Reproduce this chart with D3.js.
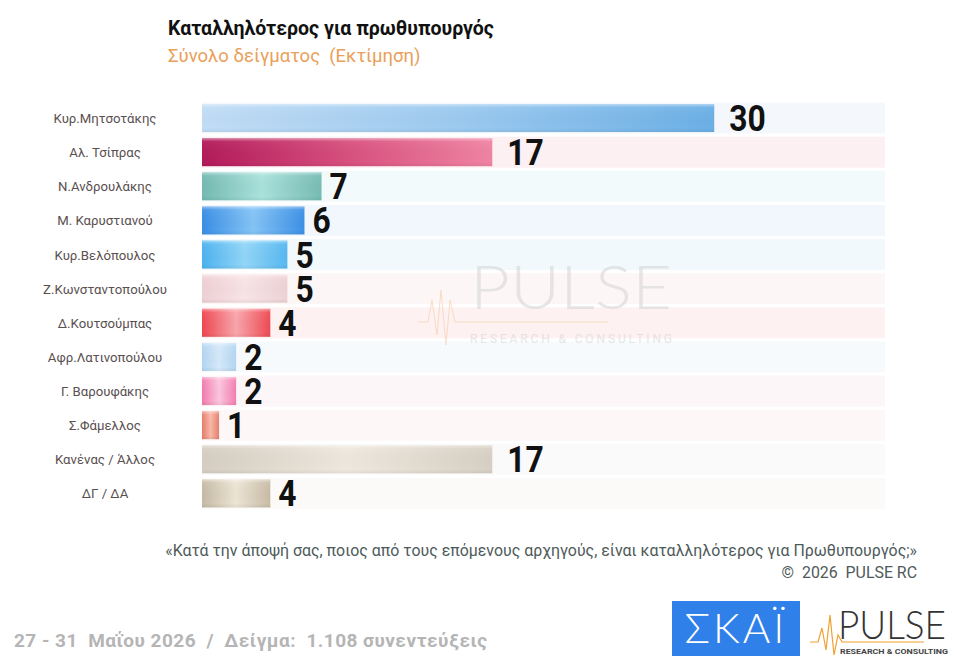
<!DOCTYPE html>
<html>
<head>
<meta charset="utf-8">
<script src="https://cdn.jsdelivr.net/npm/d3@7"></script>
<style>
  html, body { margin: 0; padding: 0; background: #fff; }
  #chart { width: 954px; height: 660px; }
  svg { font-family: Roboto, 'Liberation Sans', sans-serif; }
  text { white-space: pre; }
</style>
</head>
<body>
<div id="chart"></div>
<script>
// data
const names = [
  'Κυρ.Μητσοτάκης', 'Αλ. Τσίπρας', 'Ν.Ανδρουλάκης', 'Μ. Καρυστιανού',
  'Κυρ.Βελόπουλος', 'Ζ.Κωνσταντοπούλου', 'Δ.Κουτσούμπας', 'Αφρ.Λατινοπούλου',
  'Γ. Βαρουφάκης', 'Σ.Φάμελλος', 'Κανένας / Άλλος', 'ΔΓ / ΔΑ'
];
const values = [30, 17, 7, 6, 5, 5, 4, 2, 2, 1, 17, 4];

const title = 'Καταλληλότερος για πρωθυπουργός';
const subtitle = 'Σύνολο δείγματος  (Εκτίμηση)';
const question = '«Κατά την άποψή σας, ποιος από τους επόμενους αρχηγούς, είναι καταλληλότερος για Πρωθυπουργός;»';
const copyright = '©  2026  PULSE RC';
const sampleNote = '27 - 31  Μαΐου 2026  /  Δείγμα:  1.108 συνεντεύξεις';

// bar gradients (edge, middle, right edge) and pale row bands
const barColors = [
  ['#c2ddf6', '#9ccaf0', '#6cb0e6'],
  ['#b31a5a', '#d8507e', '#f084a4'],
  ['#74bab2', '#aae2dc', '#76bcb4'],
  ['#3a8ee6', '#84c4f6', '#3c90e6'],
  ['#4cb2f0', '#92d6f8', '#56b8f0'],
  ['#efd0d5', '#f8e4e7', '#eed2d6'],
  ['#ef4650', '#f9a6ac', '#ef4a52'],
  ['#b2d5f2', '#d6eafa', '#b4d6f2'],
  ['#f37aae', '#fcc6de', '#f37eb0'],
  ['#e67c68', '#f9b8a8', '#e6806c'],
  ['#d6cec2', '#eee8de', '#d8d0c4'],
  ['#c6baa4', '#ede5d6', '#c8bca6']
];
const bandColors = [
  '#f4f8fc', '#fcf0f3', '#f3fafb', '#f1f7fc', '#f2f9fd', '#fdf6f7',
  '#fdf1f2', '#f7fafd', '#fdf6f8', '#fdf7f8', '#fafafa', '#fbfaf8'
];

const W = 954, H = 660;

const svg = d3.select('#chart').append('svg')
  .attr('width', W)
  .attr('height', H);

const defs = svg.append('defs');

const x = d3.scaleLinear().domain([0, 40]).range([202, 885]);
const y = d3.scaleBand().domain(names).range([101, 510.5]).padding(0);

const barH = 28;
const bandH = 31;

barColors.forEach((c, i) => {
  const g = defs.append('linearGradient')
    .attr('id', `grad${i}`)
    .attr('x1', '0%').attr('x2', '100%').attr('y1', '0%').attr('y2', '0%');
  g.append('stop').attr('offset', '0%').attr('stop-color', c[0]);
  g.append('stop').attr('offset', '50%').attr('stop-color', c[1]);
  g.append('stop').attr('offset', '100%').attr('stop-color', c[2]);
});

const shine = defs.append('linearGradient')
  .attr('id', 'shine')
  .attr('x1', '0%').attr('x2', '0%').attr('y1', '0%').attr('y2', '100%');
shine.append('stop').attr('offset', '0%').attr('stop-color', '#fff').attr('stop-opacity', 0.45);
shine.append('stop').attr('offset', '12%').attr('stop-color', '#fff').attr('stop-opacity', 0.05);
shine.append('stop').attr('offset', '85%').attr('stop-color', '#000').attr('stop-opacity', 0);
shine.append('stop').attr('offset', '100%').attr('stop-color', '#000').attr('stop-opacity', 0.06);

// header
svg.append('text')
  .attr('x', 168).attr('y', 35)
  .attr('font-size', 19.5).attr('font-weight', 700)
  .attr('fill', '#111')
  .text(title);

svg.append('text')
  .attr('x', 168).attr('y', 62)
  .attr('font-size', 18.5)
  .attr('fill', '#e9a05a')
  .text(subtitle);

const rows = svg.append('g').selectAll('g')
  .data(names.map((n, i) => ({ name: n, value: values[i], i })))
  .join('g');

// row bands
rows.append('rect')
  .attr('x', x(0))
  .attr('y', d => y(d.name) + (y.bandwidth() - bandH) / 2)
  .attr('width', x(40) - x(0))
  .attr('height', bandH)
  .attr('fill', d => bandColors[d.i]);

// watermark
const wm = svg.append('g').attr('opacity', 0.55);
wm.append('text')
  .attr('x', 470).attr('y', 309)
  .style('font-family', 'Lato, sans-serif')
  .attr('font-weight', 300)
  .attr('font-size', 62)
  .attr('textLength', 202)
  .attr('lengthAdjust', 'spacingAndGlyphs')
  .attr('fill', '#d4d4d4')
  .text('PULSE');
wm.append('text')
  .attr('x', 470).attr('y', 343)
  .attr('font-size', 12)
  .attr('textLength', 202)
  .attr('lengthAdjust', 'spacing')
  .attr('fill', '#d4d4d4')
  .text('RESEARCH & CONSULTING');
wm.append('path')
  .attr('d', 'M418,322 L428,322 L432,300 L437,335 L441,290 L446,345 L450,300 L455,322 L608,322')
  .attr('fill', 'none')
  .attr('stroke', '#f6c99a')
  .attr('stroke-width', 1);

// bars
rows.append('rect')
  .attr('x', x(0))
  .attr('y', d => y(d.name) + (y.bandwidth() - barH) / 2)
  .attr('width', d => x(d.value) - x(0))
  .attr('height', barH)
  .attr('fill', d => `url(#grad${d.i})`);

rows.append('rect')
  .attr('x', x(0))
  .attr('y', d => y(d.name) + (y.bandwidth() - barH) / 2)
  .attr('width', d => x(d.value) - x(0))
  .attr('height', barH)
  .attr('fill', 'url(#shine)');

// value labels (condensed bold)
rows.append('text')
  .attr('transform', d => {
    const tx = x(d.value) + (d.value >= 10 ? 15 : 8);
    const ty = y(d.name) + y.bandwidth() / 2 + 13;
    return `translate(${tx},${ty}) scale(0.86,1)`;
  })
  .attr('font-weight', 700)
  .attr('font-size', 37)
  .attr('fill', '#111')
  .text(d => d.value);

// category labels
rows.append('text')
  .attr('x', 105)
  .attr('y', d => y(d.name) + y.bandwidth() / 2 + 5)
  .attr('text-anchor', 'middle')
  .attr('font-size', 13.2)
  .attr('fill', '#5a5050')
  .text(d => d.name);

// footnotes
svg.append('text')
  .attr('x', 917).attr('y', 556)
  .attr('text-anchor', 'end')
  .attr('font-size', 15.9)
  .attr('fill', '#4e5a5a')
  .text(question);

svg.append('text')
  .attr('x', 917).attr('y', 578)
  .attr('text-anchor', 'end')
  .attr('font-size', 15.9)
  .attr('fill', '#4e5a5a')
  .text(copyright);

svg.append('text')
  .attr('x', 14).attr('y', 647)
  .attr('font-weight', 700)
  .attr('font-size', 19)
  .attr('textLength', 473)
  .attr('lengthAdjust', 'spacing')
  .attr('fill', '#b5b5b5')
  .text(sampleNote);

// SKAI logo
svg.append('rect')
  .attr('x', 672).attr('y', 601)
  .attr('width', 128).attr('height', 55)
  .attr('fill', '#2f80e8');
svg.append('text')
  .attr('x', 736).attr('y', 643)
  .attr('text-anchor', 'middle')
  .style('font-family', 'Lato, sans-serif')
  .attr('font-weight', 300)
  .attr('font-size', 42)
  .attr('letter-spacing', 3)
  .attr('fill', '#fff')
  .text('ΣΚΑΪ');

// PULSE logo
svg.append('text')
  .attr('x', 838).attr('y', 639)
  .style('font-family', 'Lato, sans-serif')
  .attr('font-weight', 300)
  .attr('font-size', 40)
  .attr('textLength', 108)
  .attr('lengthAdjust', 'spacingAndGlyphs')
  .attr('fill', '#333')
  .text('PULSE');
svg.append('path')
  .attr('d', 'M810,642 L818,642 L822,628 L826,650 L830,615 L834,655 L838,635 L842,642 L924,642')
  .attr('fill', 'none')
  .attr('stroke', '#f0a030')
  .attr('stroke-width', 1.2);
svg.append('text')
  .attr('x', 840).attr('y', 654)
  .attr('font-size', 6.5)
  .attr('font-weight', 700)
  .attr('textLength', 108)
  .attr('lengthAdjust', 'spacingAndGlyphs')
  .attr('fill', '#444')
  .text('RESEARCH & CONSULTING');
</script>
</body>
</html>
